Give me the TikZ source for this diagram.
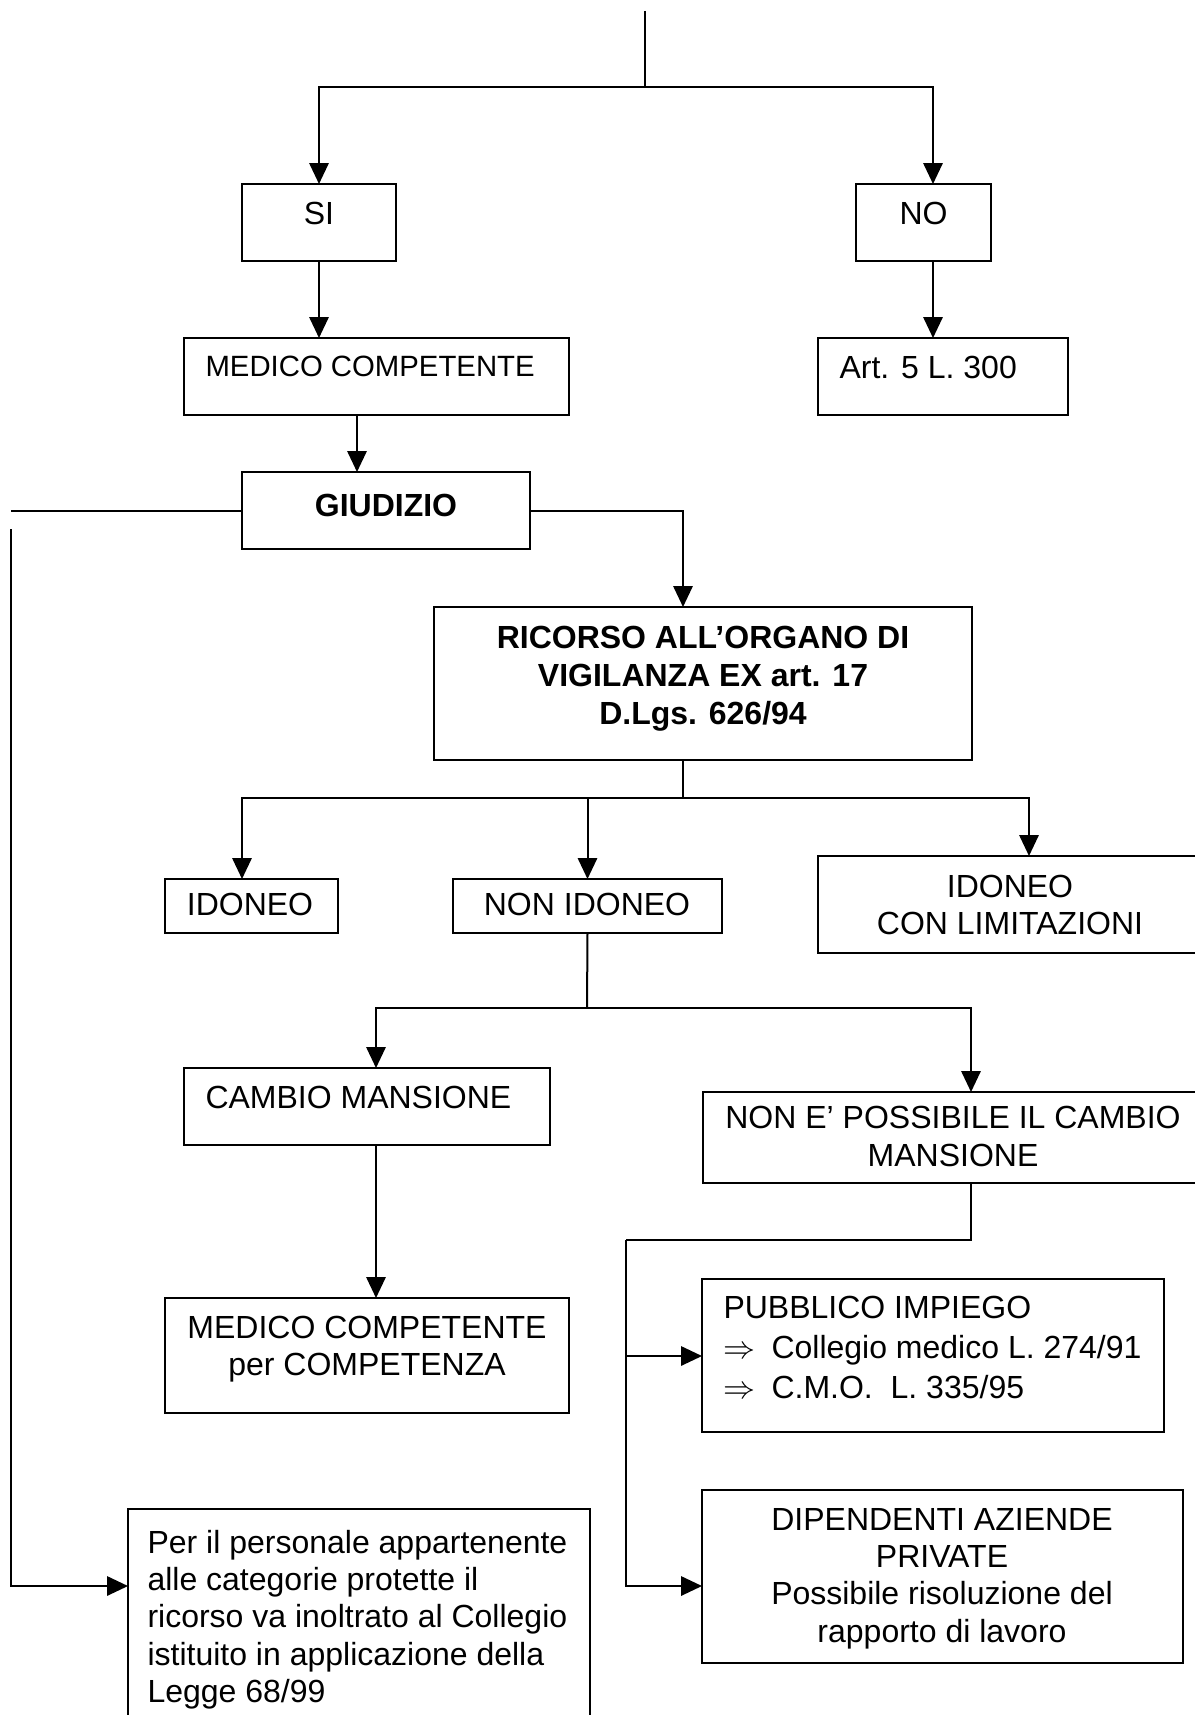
\documentclass[tikz,border=0pt]{standalone}
\usepackage{fontspec}
\setmainfont{Liberation Sans}
\usetikzlibrary{arrows.meta}
\newcommand{\mkbox}[5]{\node[bx, minimum width={(#4-#2)*0.375pt}, minimum height={(#5-#3)*0.375pt}] (#1) at ({(#2+#4)/2},{(#3+#5)/2}) {};}
\begin{document}
\begin{tikzpicture}[x=0.375pt,y=-0.375pt,
  bx/.style={draw, line width=0.75pt, inner sep=0pt, outer sep=0pt},
  ln/.style={line width=0.75pt},
  arr/.style={ln, -{Triangle[length=7.8pt,width=7.2pt]}},
  txt/.style={inner sep=0pt, font=\fontsize{12pt}{14pt}\selectfont},
  txtb/.style={inner sep=0pt, font=\fontsize{12pt}{14.2pt}\selectfont\bfseries},
]
\useasboundingbox (0,0) rectangle (1194,1715);

% boxes
\mkbox{si}{242}{184}{396}{261}
\mkbox{no}{856}{184}{991}{261}
\mkbox{mc}{184}{338}{569}{415}
\mkbox{art}{818}{338}{1068}{415}
\mkbox{giu}{242}{472}{530}{549}
\mkbox{ric}{434}{607}{972}{760}
\mkbox{ido}{165}{879}{338}{933}
\mkbox{nonido}{453}{879}{722}{933}
\mkbox{idolim}{818}{856}{1200}{953}
\mkbox{cambio}{184}{1068}{550}{1145}
\mkbox{nonpos}{703}{1092}{1200}{1183}
\mkbox{mcc}{165}{1298}{569}{1413}
\mkbox{pub}{702}{1279}{1164}{1432}
\mkbox{dip}{702}{1490}{1183}{1663}
\mkbox{per}{128}{1509}{590}{1725}

% texts
\node[txt, anchor=north] (tsi) at (319,201.5) {SI};
\node[txt, anchor=north] (tno) at (923.5,201.5) {NO};
\node[txt, anchor=north west, font=\fontsize{11pt}{13pt}\selectfont] (tmc) at (205,355.5) {MEDICO COMPETENTE};
\node[txt, anchor=north west] (tart) at (839,355.5) {Art. 5 L. 300};
\node[txtb, anchor=north] (tgiu) at (386,494) {GIUDIZIO};
\node[txtb, anchor=north, align=center] (tric) at (703,625.5) {RICORSO ALL’ORGANO DI\\VIGILANZA EX art. 17\\D.Lgs. 626/94};
\node[txt, anchor=north] (tido) at (250,892.5) {IDONEO};
\node[txt, anchor=north] (tnonido) at (587,892.5) {NON IDONEO};
\node[txt, anchor=north, align=center] (tidolim) at (1010,874.5) {IDONEO\\CON LIMITAZIONI};
\node[txt, anchor=north west] (tcambio) at (205,1085.5) {CAMBIO MANSIONE};
\node[txt, anchor=north, align=center] (tnonpos) at (953,1106) {NON E’ POSSIBILE IL CAMBIO\\MANSIONE};
\node[txt, anchor=north, align=center] (tmcc) at (367,1315.5) {MEDICO COMPETENTE\\per COMPETENZA};
\node[txt, anchor=north west, align=left, font=\fontsize{12pt}{15pt}\selectfont] (tpub) at (723,1295.5)
  {PUBBLICO IMPIEGO\\\makebox[18pt][l]{$\Rightarrow$}Collegio medico L. 274/91\\\makebox[18pt][l]{$\Rightarrow$}C.M.O.\ \ L. 335/95};
\node[txt, anchor=north, align=center] (tdip) at (942,1507.5) {DIPENDENTI AZIENDE\\PRIVATE\\Possibile risoluzione del\\rapporto di lavoro};
\node[txt, anchor=north west, align=left] (tper) at (147,1529.5)
  {Per il personale appartenente\\alle categorie protette il\\ricorso va inoltrato al Collegio\\istituito in applicazione della\\Legge 68/99};

% helper coordinates
\coordinate (t0) at (645,11);
\coordinate (t1) at (645,87);
\coordinate (nox) at (933,0);
\coordinate (mgx) at (357,0);
\coordinate (gl) at (11,0);
\coordinate (lv) at (11,529);
\coordinate (pery) at (0,1586);
\coordinate (rx) at (683,0);
\coordinate (r1) at (683,798);
\coordinate (idox) at (242,0);
\coordinate (limx) at (1029,0);
\coordinate (n1) at (587,1008);
\coordinate (cmx) at (376,0);
\coordinate (npx) at (971,0);
\coordinate (p1) at (971,1240);
\coordinate (p2) at (626,1240);
\coordinate (puby) at (0,1356);

% connectors
\draw[ln] (t0) -- (t1);
\draw[arr] (t1) -| (si.north);
\draw[arr] (t1) -| (no.north -| nox);
\draw[arr] (si.south) -- (si.south |- mc.north);
\draw[arr] (no.south -| nox) -- (art.north -| nox);
\draw[arr] (mc.south -| mgx) -- (giu.north -| mgx);
\draw[ln] (giu.west) -- (giu.west -| gl);
\draw[arr] (lv) |- (per.west |- pery);
\draw[arr] (giu.east) -| (ric.north -| rx);
\draw[ln] (ric.south -| rx) -- (r1);
\draw[arr] (r1) -| (ido.north -| idox);
\draw[arr] (r1) -| (idolim.north -| limx);
\draw[arr] (r1 -| nonido.north) -- (nonido.north);
\draw[ln] (nonido.south) -- (n1);
\draw[arr] (n1) -| (cambio.north -| cmx);
\draw[arr] (n1) -| (nonpos.north -| npx);
\draw[arr] (cambio.south -| cmx) -- (mcc.north -| cmx);
\draw[ln] (nonpos.south -| npx) -- (p1) -- (p2);
\draw[arr] (p2) |- (dip.west |- pery);
\draw[arr] (p2 |- puby) -- (pub.west |- puby);
\end{tikzpicture}
\end{document}
